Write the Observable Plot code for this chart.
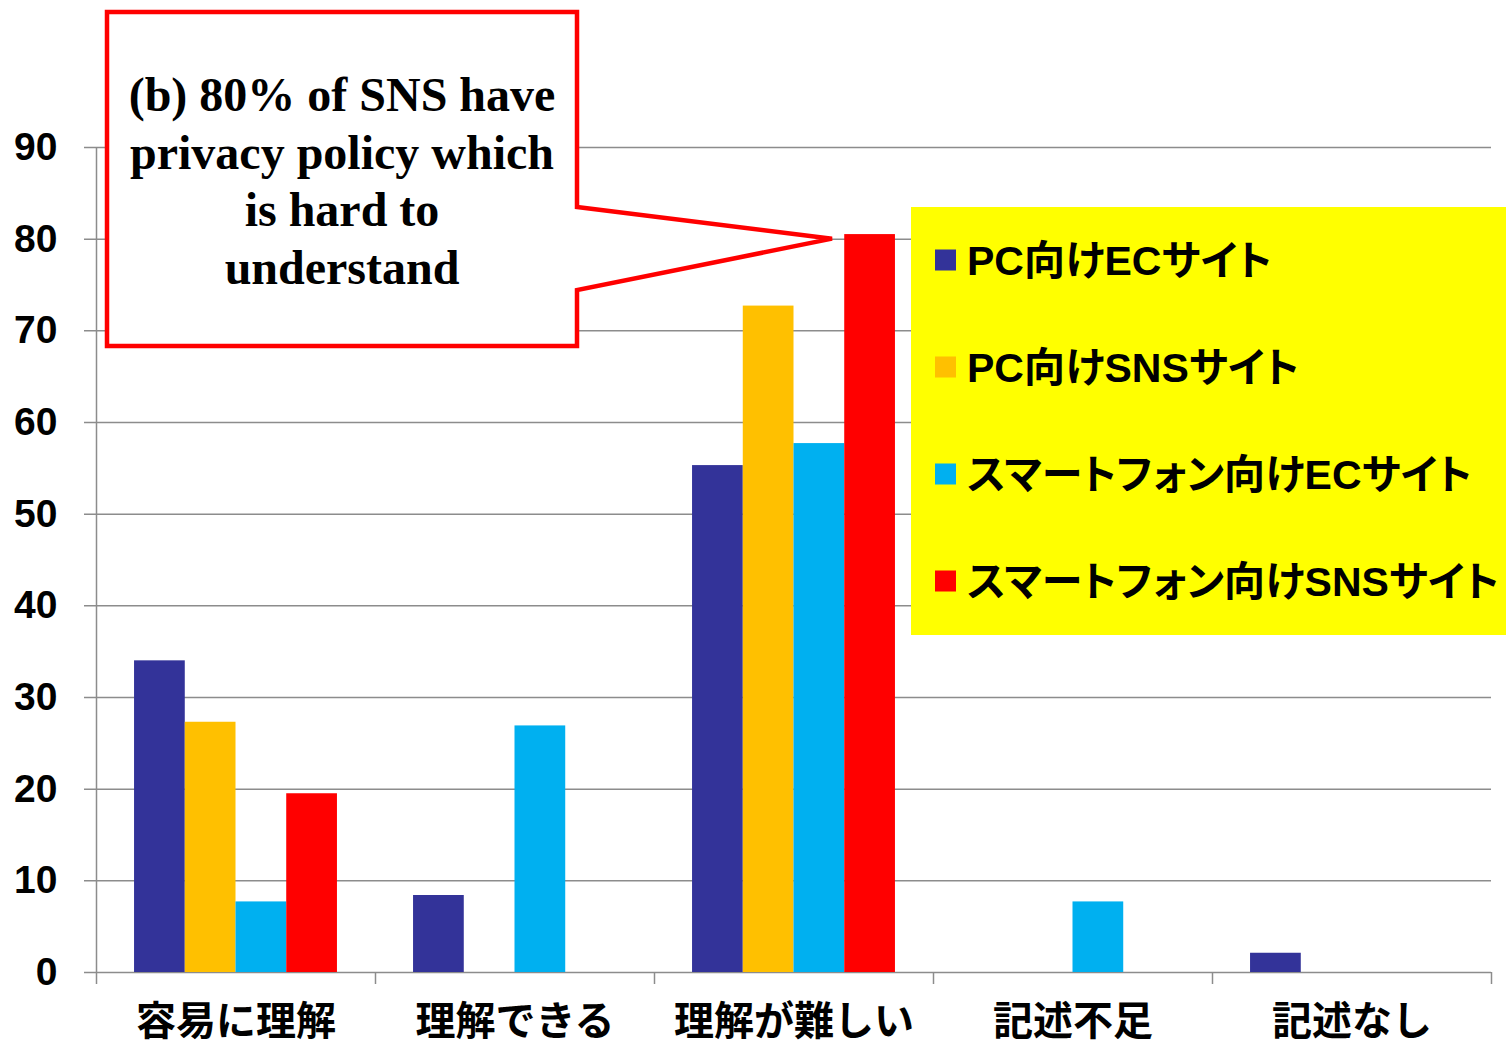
<!DOCTYPE html>
<html>
<head>
<meta charset="utf-8">
<script src="https://cdn.jsdelivr.net/npm/d3@7"></script>
<script src="https://cdn.jsdelivr.net/npm/@observablehq/plot@0.6"></script>
<style>
  html, body { margin: 0; padding: 0; background: #fff; }
  #wrap { position: relative; width: 1506px; height: 1046px; overflow: hidden; background: #fff; }
  #wrap > svg { position: absolute; left: 0; top: 0; }
  #overlay { pointer-events: none; }
  g[aria-label="x-axis tick label"] text { font-size: 40px; }
  .legend-text { font-feature-settings: "palt" 1; }
</style>
</head>
<body>
<div id="wrap"></div>
<script>
// ---- data ----
const categories = ["容易に理解", "理解できる", "理解が難しい", "記述不足", "記述なし"];
const seriesNames = ["PC向けECサイト", "PC向けSNSサイト", "スマートフォン向けECサイト", "スマートフォン向けSNSサイト"];
const seriesColors = ["#333399", "#FFC000", "#00B0F0", "#FF0000"];
const pcEC  = [34.0, 8.4, 55.3, 0, 2.1];
const pcSNS = [27.3, 0, 72.7, 0, 0];
const spEC  = [7.7, 26.9, 57.7, 7.7, 0];
const spSNS = [19.5, 0, 80.5, 0, 0];
const yTicks = [0, 10, 20, 30, 40, 50, 60, 70, 80, 90];
const calloutLines = ["(b) 80% of SNS have", "privacy policy which", "is hard to", "understand"];
const calloutValue = 80;

// ---- layout ----
const W = 1506, H = 1046;
const mL = 96, mR = 15, mT = 147, mB = 74;
const plotW = W - mL - mR, plotH = H - mT - mB;
const band = plotW / categories.length;
const barW = band / 5.5;
const gray = "#8c8c8c";
const sansFont = "'Liberation Sans', Arial, 'Noto Sans CJK JP', sans-serif";

const seriesValues = [pcEC, pcSNS, spEC, spSNS];
const barMarks = seriesValues.map((vals, j) => {
  const rows = categories.map((c, i) => ({category: c, value: vals[i]})).filter(d => d.value > 0);
  return Plot.barY(rows, {
    x: "category", y: "value", fill: seriesColors[j],
    insetLeft: (band - barW) / 2, insetRight: (band - barW) / 2,
    dx: (j - 1.5) * barW
  });
});

const chart = Plot.plot({
  width: W, height: H,
  marginLeft: mL, marginRight: mR, marginTop: mT, marginBottom: mB,
  style: {fontSize: "39px", fontWeight: "bold", fontFamily: sansFont, color: "#000", background: "#fff", overflow: "visible"},
  x: {domain: categories, padding: 0, tickSize: 0, tickPadding: 34, label: null},
  y: {domain: [0, 90], ticks: yTicks, tickSize: 0, tickPadding: 39, label: null, tickFormat: d => String(d)},
  marks: [
    Plot.ruleY(yTicks, {y: d => d, stroke: gray, strokeWidth: 1.5, insetLeft: -12}),
    Plot.ruleX([categories[0]], {x: d => d, dx: -band / 2, stroke: gray, strokeWidth: 1.5, insetBottom: -12}),
    Plot.ruleX(categories.slice(1), {x: d => d, dx: -band / 2, stroke: gray, strokeWidth: 1.5, insetTop: plotH, insetBottom: -12}),
    Plot.ruleX([categories[categories.length - 1]], {x: d => d, dx: band / 2, stroke: gray, strokeWidth: 1.5, insetTop: plotH, insetBottom: -12}),
    ...barMarks
  ]
});

const wrap = document.getElementById("wrap");
wrap.appendChild(chart);

// ---- overlay: callout and legend ----
const ov = d3.select(wrap).append("svg")
  .attr("id", "overlay")
  .attr("width", W).attr("height", H)
  .attr("xmlns", "http://www.w3.org/2000/svg");

const ys = chart.scale("y");
const tipY = ys.apply(calloutValue);
const tipX = 832;

const bx1 = 107, by1 = 12, bx2 = 577, by2 = 346;
ov.append("path")
  .attr("d", `M${bx1},${by1} H${bx2} V207 L${tipX},${tipY} L${bx2},290 V${by2} H${bx1} Z`)
  .attr("fill", "#fff").attr("stroke", "#ff0000").attr("stroke-width", 4.5)
  .attr("stroke-linejoin", "miter");

ov.append("g")
  .attr("font-family", "'Liberation Serif', 'Times New Roman', serif")
  .attr("font-weight", "bold").attr("font-size", 48).attr("text-anchor", "middle")
  .selectAll("text").data(calloutLines).join("text")
  .attr("x", 342).attr("y", (d, i) => 111 + i * 57.5)
  .text(d => d);

// legend
ov.append("rect").attr("x", 911).attr("y", 207).attr("width", 600).attr("height", 428).attr("fill", "#ffff00");
const lg = ov.append("g")
  .attr("font-family", sansFont).attr("font-weight", "bold").attr("font-size", 41);
seriesNames.forEach((name, i) => {
  const cy = 260 + i * 107;
  lg.append("rect").attr("x", 935).attr("y", cy - 10.5).attr("width", 21).attr("height", 21).attr("fill", seriesColors[i]);
  lg.append("text").attr("class", "legend-text").attr("x", 967).attr("y", cy).attr("dy", "0.36em").text(name);
});
</script>
</body>
</html>
